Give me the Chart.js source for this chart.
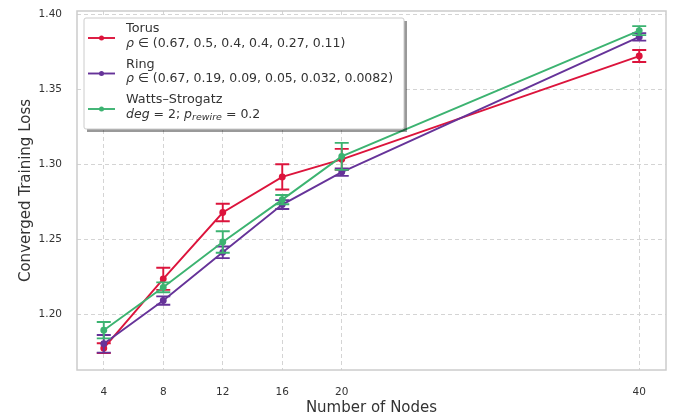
<!DOCTYPE html>
<html>
<head>
<meta charset="utf-8">
<script src="https://cdn.jsdelivr.net/npm/chart.js@4.4.0/dist/chart.umd.min.js"></script>
<style>
  html, body { margin: 0; padding: 0; background: #fff; }
  #wrap { width: 687px; height: 417px; }
</style>
</head>
<body>
<div id="wrap"><canvas id="chart" width="687" height="417"></canvas></div>
<script>
// values
const nodes = [4, 8, 12, 16, 20, 40];
const xTicks = [4, 8, 12, 16, 20, 40];
const yTicks = [1.20, 1.25, 1.30, 1.35, 1.40];

const torusLoss = [1.1772, 1.2235, 1.2678, 1.2916, 1.3033, 1.3723];
const torusErr  = [0.0033, 0.0074, 0.0058, 0.0084, 0.0070, 0.0040];
const ringLoss  = [1.1801, 1.2090, 1.2412, 1.2731, 1.2948, 1.3851];
const ringErr   = [0.0059, 0.0028, 0.0039, 0.0030, 0.0025, 0.0025];
const wsLoss    = [1.1892, 1.2178, 1.2481, 1.2764, 1.3053, 1.3893];
const wsErr     = [0.0055, 0.0033, 0.0072, 0.0031, 0.0090, 0.0030];

const seriesNames = ["Torus", "Ring", "Watts\u2013Strogatz"];
const seriesColors = ["#dc143c", "#663399", "#3cb371"];

const FONT = "'DejaVu Sans', sans-serif";
const TXT = "#333333";

function ds(label, data, err, color, order) {
  return {
    label: label,
    data: nodes.map((n, i) => ({ x: n, y: data[i] })),
    err: err,
    borderColor: color,
    backgroundColor: color,
    borderWidth: 1.9,
    pointRadius: 2.5,
    pointHoverRadius: 2.5,
    tension: 0,
    order: order
  };
}

// error bars, drawn right after each dataset so layering follows the lines
const errorBars = {
  id: "errorBars",
  afterDatasetDraw(chart, args) {
    const d = chart.data.datasets[args.index];
    const xs = chart.scales.x, ys = chart.scales.y;
    const c = chart.ctx;
    c.save();
    c.strokeStyle = d.borderColor;
    c.lineWidth = 1.9;
    d.data.forEach((p, i) => {
      const px = xs.getPixelForValue(p.x);
      const top = ys.getPixelForValue(p.y + d.err[i]);
      const bot = ys.getPixelForValue(p.y - d.err[i]);
      c.beginPath();
      c.moveTo(px, top); c.lineTo(px, bot);
      c.moveTo(px - 7, top); c.lineTo(px + 7, top);
      c.moveTo(px - 7, bot); c.lineTo(px + 7, bot);
      c.stroke();
    });
    c.restore();
  }
};

// plot frame on all four sides
const frame = {
  id: "frame",
  afterDraw(chart) {
    const a = chart.chartArea, c = chart.ctx;
    c.save();
    c.strokeStyle = "#cccccc";
    c.lineWidth = 1.5;
    c.strokeRect(a.left, a.top, a.right - a.left, a.bottom - a.top);
    c.restore();
  }
};

// legend with two-line entries (matplotlib style with shadow)
const detailLines = [
  [{ t: "\u03c1", it: true }, { t: " \u2208 (0.67, 0.5, 0.4, 0.4, 0.27, 0.11)" }],
  [{ t: "\u03c1", it: true }, { t: " \u2208 (0.67, 0.19, 0.09, 0.05, 0.032, 0.0082)" }],
  [{ t: "deg", it: true }, { t: " = 2; " }, { t: "p", it: true }, { t: "rewire", it: true, sub: true }, { t: " = 0.2" }]
];

const mathLegend = {
  id: "mathLegend",
  afterDraw(chart) {
    const c = chart.ctx;
    const bx = 84, by = 18, bw = 320, bh = 111;
    c.save();
    c.fillStyle = "rgba(0,0,0,0.4)";
    c.fillRect(bx + 3, by + 3, bw, bh);
    c.fillStyle = "#ffffff";
    c.strokeStyle = "#cccccc";
    c.lineWidth = 1;
    c.beginPath();
    c.roundRect(bx, by, bw, bh, 2);
    c.fill();
    c.stroke();
    c.textBaseline = "middle";
    c.textAlign = "left";
    seriesNames.forEach((name, i) => {
      const y0 = 29 + i * 35.5;
      const hy = y0 + 9;
      c.strokeStyle = seriesColors[i];
      c.fillStyle = seriesColors[i];
      c.lineWidth = 1.9;
      c.beginPath(); c.moveTo(88, hy); c.lineTo(115, hy); c.stroke();
      c.beginPath(); c.arc(101.5, hy, 2.5, 0, Math.PI * 2); c.fill();
      c.fillStyle = TXT;
      c.font = "12.8px " + FONT;
      c.fillText(name, 126, y0);
      let x = 126;
      const y1 = y0 + 14.5;
      detailLines[i].forEach(s => {
        const size = s.sub ? 9.5 : 12.5;
        c.font = (s.it ? "italic " : "") + size + "px " + FONT;
        c.fillText(s.t, x, s.sub ? y1 + 3.5 : y1);
        x += c.measureText(s.t).width;
      });
    });
    c.restore();
  }
};

new Chart(document.getElementById("chart"), {
  type: "line",
  data: {
    datasets: [
      ds(seriesNames[0], torusLoss, torusErr, seriesColors[0], 2),
      ds(seriesNames[1], ringLoss, ringErr, seriesColors[1], 1),
      ds(seriesNames[2], wsLoss, wsErr, seriesColors[2], 0)
    ]
  },
  options: {
    responsive: false,
    animation: false,
    events: [],
    layout: { padding: { top: 11, right: 21, left: 0, bottom: 0 } },
    plugins: { legend: { display: false }, tooltip: { enabled: false } },
    scales: {
      x: {
        type: "linear",
        min: 2.2,
        max: 41.8,
        afterBuildTicks: s => { s.ticks = xTicks.map(v => ({ value: v })); },
        afterFit: s => { s.height = 47; s.paddingLeft = 0; s.paddingRight = 0; },
        grid: { color: "#d4d4d4", lineWidth: 1, drawTicks: false },
        border: { display: false, dash: [4, 3] },
        ticks: { padding: 16, color: TXT, font: { family: FONT, size: 10.5 } },
        title: { display: true, text: "Number of Nodes", color: TXT, font: { family: FONT, size: 15 }, padding: { top: 0, bottom: 0 } }
      },
      y: {
        min: 1.1626,
        max: 1.4024,
        afterBuildTicks: s => { s.ticks = yTicks.map(v => ({ value: v })); },
        afterFit: s => { s.width = 77; s.paddingTop = 0; s.paddingBottom = 0; },
        grid: { color: "#d4d4d4", lineWidth: 1, drawTicks: false },
        border: { display: false, dash: [4, 3] },
        ticks: { padding: 15, color: TXT, font: { family: FONT, size: 10.5 }, callback: v => v.toFixed(2) },
        title: { display: true, text: "Converged Training Loss", color: TXT, font: { family: FONT, size: 15 }, padding: { top: 17, bottom: 0 } }
      }
    }
  },
  plugins: [errorBars, frame, mathLegend]
});
</script>
</body>
</html>
